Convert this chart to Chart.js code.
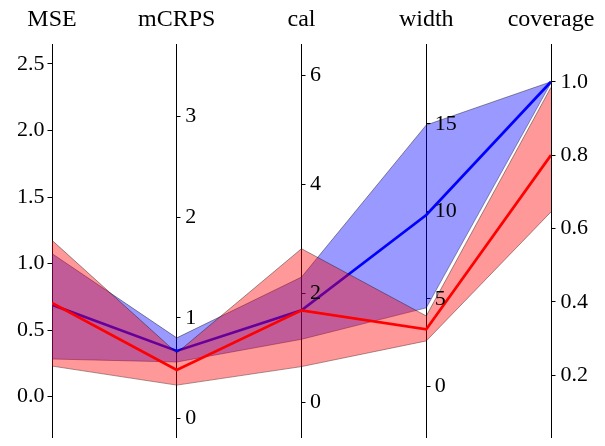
<!DOCTYPE html>
<html>
<head>
<meta charset="utf-8">
<script src="https://cdn.jsdelivr.net/npm/chart.js@4"></script>
<style>
  html, body { margin: 0; padding: 0; background: #fff; }
  #wrap { width: 605px; height: 446px; }
  #fontwarm { position: absolute; left: -1000px; top: 0; font: 22px "Liberation Serif"; }
</style>
</head>
<body>
<div id="wrap"><canvas id="pc"></canvas></div>
<span id="fontwarm">MSE mCRPS cal width coverage 0123456789.</span>
<script>
// axes of the parallel plot
var axisNames = ["MSE", "mCRPS", "cal", "width", "coverage"];
var axisMin = [-0.303, -0.186, -0.63, -2.89, 0.031];
var axisMax = [2.650, 3.723, 6.57, 19.57, 1.103];
var tickStep = [0.5, 1, 2, 5, 0.2];
var tickDigits = [1, 0, 0, 0, 1];

// blue model: mean and band
var blueMean = [0.69, 0.67, 1.69, 9.8, 1.0];
var blueUpper = [1.075, 0.80, 2.30, 14.94, 1.0];
var blueLower = [0.283, 0.56, 1.16, 4.49, 0.997];

// red model: mean and band
var redMean = [0.705, 0.48, 1.69, 3.27, 0.80];
var redUpper = [1.175, 0.65, 2.82, 4.03, 0.985];
var redLower = [0.23, 0.33, 0.66, 2.6, 0.645];

var serif = '"Liberation Serif", "Times New Roman", serif';

// every value is plotted on the first (MSE) axis, like a twin-axes parallel plot
function toHost(vals) {
  return vals.map(function (v, i) {
    var t = (v - axisMin[i]) / (axisMax[i] - axisMin[i]);
    return { x: i, y: axisMin[0] + t * (axisMax[0] - axisMin[0]) };
  });
}

function line(data, color, width, order, fill) {
  return {
    data: toHost(data),
    yAxisID: "y0",
    borderColor: color,
    borderWidth: width,
    backgroundColor: "transparent",
    pointRadius: 0,
    tension: 0,
    order: order,
    fill: fill === undefined ? false : fill
  };
}

var bandEdge = "rgba(0,0,0,0.4)";
var datasets = [
  line(blueUpper, bandEdge, 1, 3, { target: 1 }),
  line(blueLower, bandEdge, 1, 3),
  line(blueMean, "#0000ff", 2.7, 2),
  line(redUpper, bandEdge, 1, 1, { target: 4 }),
  line(redLower, bandEdge, 1, 1),
  line(redMean, "#ff0000", 2.7, 0)
];
datasets[0].backgroundColor = "rgba(0,0,255,0.4)";
datasets[3].backgroundColor = "rgba(255,0,0,0.4)";

function yAxis(i, position, tickLen, pad, width) {
  return {
    type: "linear",
    position: position,
    min: axisMin[i],
    max: axisMax[i],
    z: 1,
    grid: { drawOnChartArea: false, drawTicks: true, tickLength: tickLen, tickColor: "#000", tickWidth: 1 },
    border: { display: true, color: "#000", width: 1 },
    ticks: {
      stepSize: tickStep[i],
      includeBounds: false,
      display: position === "left" || position === "right",
      padding: pad,
      color: "#000",
      font: { family: serif, size: 22 },
      callback: function (v) { return Number(v).toFixed(tickDigits[i]); }
    },
    afterFit: function (s) {
      if (width !== undefined) s.width = width;
      s.paddingTop = 0;
      s.paddingBottom = 0;
    }
  };
}

var scales = {
  x: {
    type: "linear",
    position: "top",
    min: 0,
    max: axisNames.length - 1,
    grid: { display: false, drawTicks: false },
    border: { display: false },
    ticks: {
      stepSize: 1,
      autoSkip: false,
      maxRotation: 0,
      padding: 10,
      color: "#000",
      font: { family: serif, size: 24 },
      callback: function (v) { return axisNames[v]; }
    },
    afterFit: function (s) { s.height = 44; }
  },
  y0: yAxis(0, "left", 4.5, 3, 52),
  y1: yAxis(1, { x: 1 }, -4.5, 4),
  y2: yAxis(2, { x: 2 }, -4.5, 4),
  y3: yAxis(3, { x: 3 }, -4.5, 4),
  y4: yAxis(4, "right", 4.5, 5, 54)
};

// tick labels of the inner axes sit on their right side
var innerLabels = {
  id: "innerLabels",
  afterDraw: function (chart) {
    var ctx = chart.ctx;
    ctx.save();
    ctx.fillStyle = "#000";
    ctx.font = "22px " + serif;
    ctx.textAlign = "left";
    ctx.textBaseline = "middle";
    [1, 2, 3].forEach(function (i) {
      var sc = chart.scales["y" + i];
      var x = chart.scales.x.getPixelForValue(i) + 8.5;
      sc.ticks.forEach(function (t) {
        ctx.fillText(Number(t.value).toFixed(tickDigits[i]), x, sc.getPixelForValue(t.value));
      });
    });
    ctx.restore();
  }
};

function draw() {
  new Chart(document.getElementById("pc"), {
    type: "line",
    data: { datasets: datasets },
    options: {
      responsive: true,
      maintainAspectRatio: false,
      animation: false,
      layout: { padding: { bottom: 9 } },
      plugins: { legend: { display: false }, tooltip: { enabled: false } },
      scales: scales
    },
    plugins: [innerLabels]
  });
}

if (document.fonts && document.fonts.load) {
  document.fonts.load('22px "Liberation Serif"').then(draw, draw);
} else {
  draw();
}
</script>
</body>
</html>
